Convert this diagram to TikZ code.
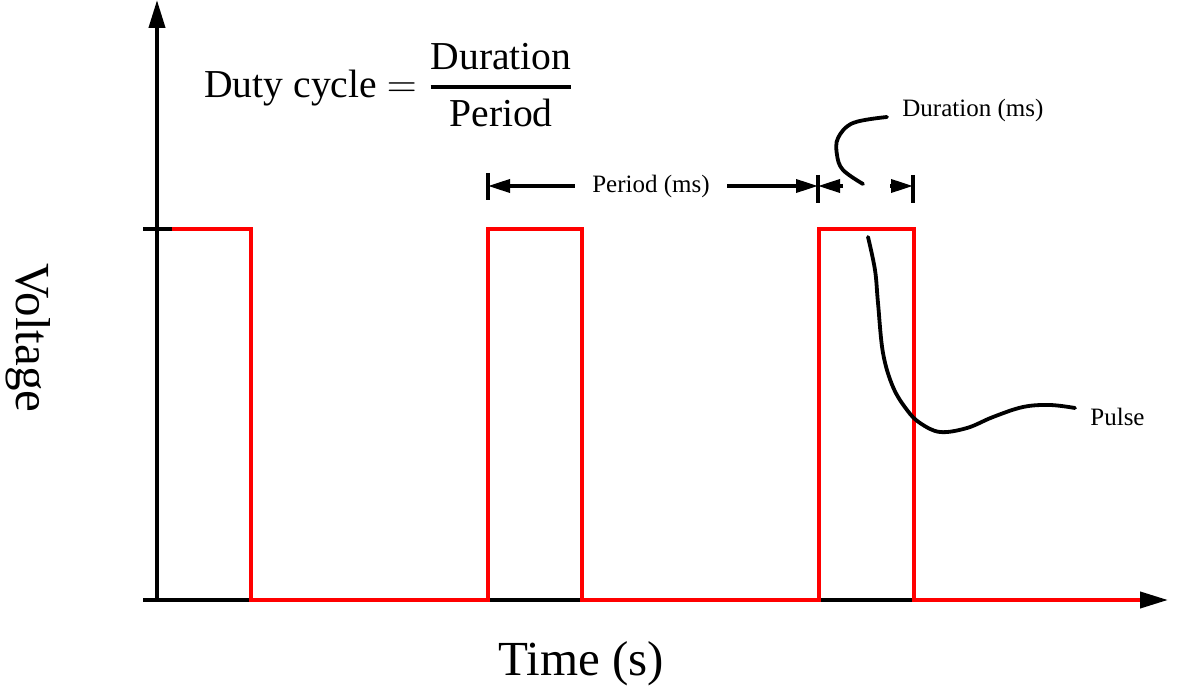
\documentclass[tikz,border=0pt]{standalone}
\usepackage{amsmath}
\usepackage{fontspec}
\setmainfont{Liberation Serif}
\usetikzlibrary{arrows.meta, positioning}
\definecolor{sigred}{HTML}{FF0000}
\tikzset{
  axis/.style={draw=black, line width=2pt},
  axisarrow/.style={axis, -{Triangle[length=14pt, width=8pt]}},
  signal/.style={draw=sigred, line width=1.8pt, line join=miter},
  dim/.style={draw=black, line width=1.8pt, -{Triangle[length=11pt, width=6.5pt]}},
  dimbar/.style={draw=black, line width=2pt},
  leader/.style={draw=black, line width=1.9pt, line cap=round},
  lbl/.style={font=\fontsize{12.5}{15}\selectfont, inner sep=0pt},
  biglbl/.style={font=\fontsize{24.5}{29}\selectfont, inner sep=0pt},
}

\begin{document}
\begin{tikzpicture}[x=0.5pt, y=-0.5pt]
  \useasboundingbox (0,0) rectangle (1200,695);
  % axes
  \draw[axisarrow] (157,600) -- (157,0);
  \draw[axisarrow] (143,600) -- (1168,600);
  \draw[axis] (143,229) -- (172,229);
  % pulse train
  \draw[signal] (172,229) -- (251,229) -- (251,600) -- (488,600) -- (488,229) -- (582,229)
    -- (582,600) -- (819,600) -- (819,229) -- (914,229) -- (914,600) -- (1140,600);
  % axis titles and formula
  \node[biglbl, rotate=-90] (volt) at (28,338) {Voltage};
  \node[biglbl] (time) at (581,664) {Time (s)};
  \node[anchor=west, inner sep=0pt, font=\fontsize{19.8}{24}\selectfont] (duty) at (204,85)
    {Duty cycle $=\genfrac{}{}{1.8pt}{0}{\text{Duration}}{\text{Period}}$};
  % period / duration dimensions
  \coordinate (perL) at (488,186);
  \coordinate (perR) at (818,186);
  \coordinate (durR) at (913,186);
  \coordinate (durA) at (843,186);
  \coordinate (durB) at (890,186);
  \draw[dimbar] (488,173) -- (488,200);
  \draw[dimbar] (818,175) -- (818,203);
  \draw[dimbar] (913,175) -- (913,203);
  \node[lbl, inner xsep=8.5pt] (perText) at (651,186) {Period (ms)};
  \draw[dim] (perText.west) -- (perL);
  \draw[dim] (perText.east) -- (perR);
  \draw[dim] (durA) -- (perR);
  \draw[dim] (durB) -- (durR);
  % leaders
  \node[lbl, inner xsep=7.5pt, anchor=base west] (durText) at (887,117) {Duration (ms)};
  \coordinate (durTip) at (863,184);
  \draw[leader] plot[smooth, tension=0.6] coordinates {(durText.base west) (853,123) (838,138) (837,155) (843,170) (durTip)};
  \node[lbl, inner xsep=7.5pt, anchor=north west] (pulseText) at (1075,408) {Pulse};
  \coordinate (pulseTip) at (868,237);
  \draw[leader] plot[smooth, tension=0.6] coordinates {(pulseText.north west) (1050,405) (1023,407) (993,417)
    (967,428) (940,432) (920,423) (907,410) (893,387) (883,353) (878,303) (875,270) (pulseTip)};
\end{tikzpicture}
\end{document}
